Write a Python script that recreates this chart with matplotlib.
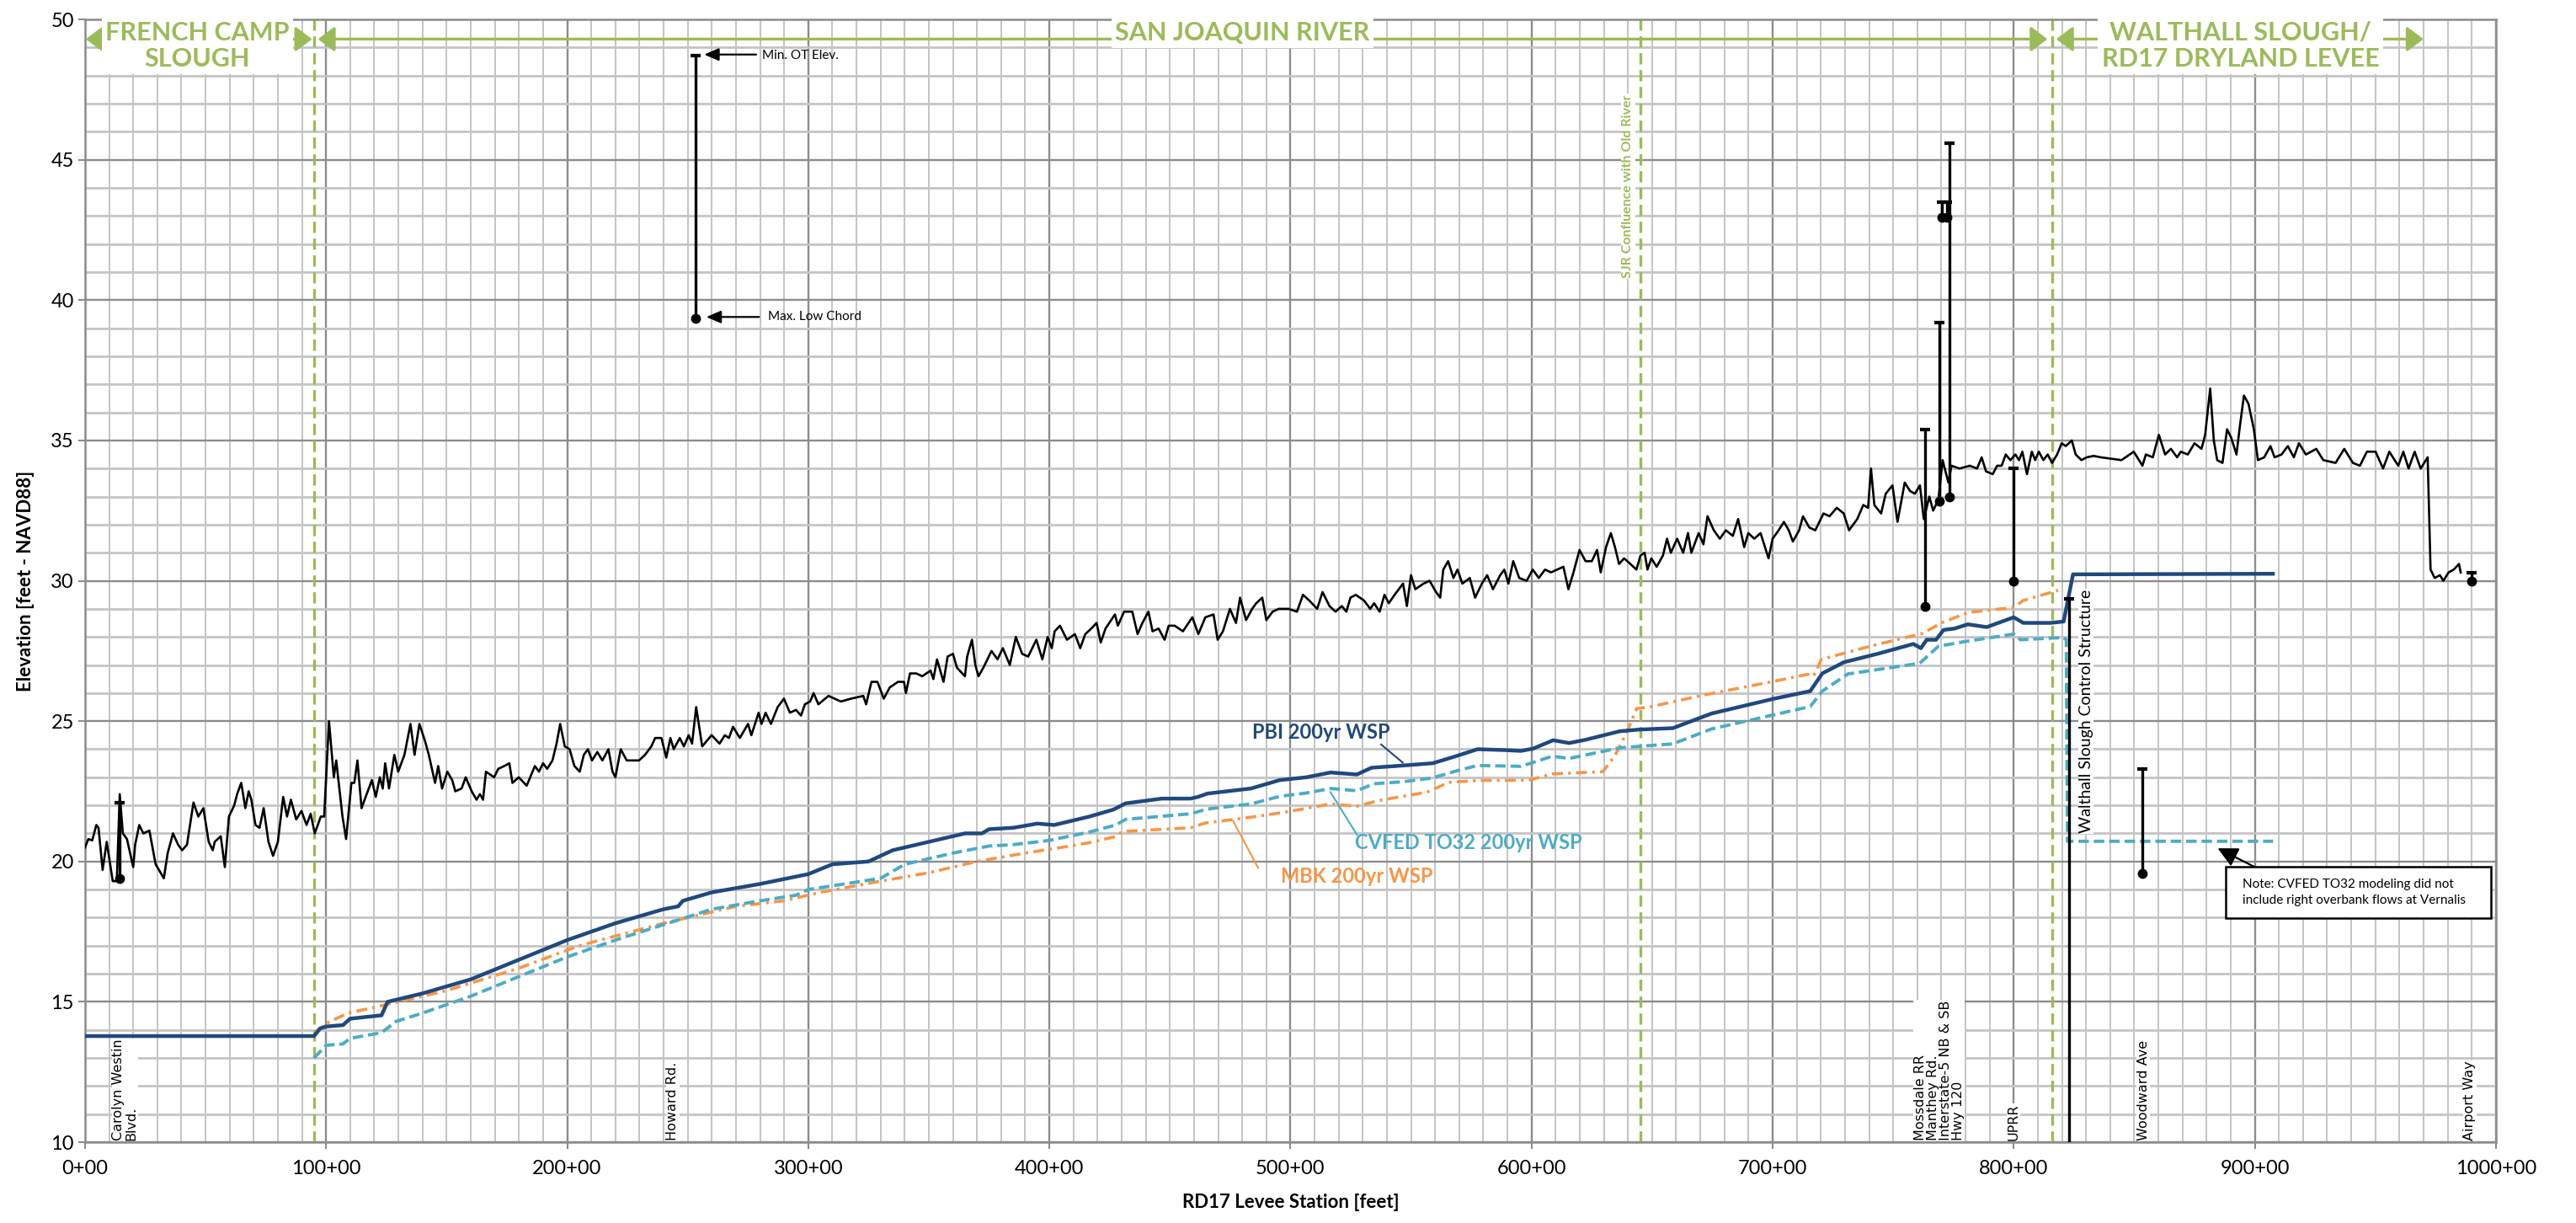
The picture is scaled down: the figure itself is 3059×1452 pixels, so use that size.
import matplotlib
matplotlib.use("Agg")
import matplotlib.pyplot as plt
from matplotlib.ticker import MultipleLocator, FuncFormatter

narrow = ["Liberation Sans Narrow", "Lato", "DejaVu Sans"]
green = "#9BBB59"
pbi_color = "#1F497D"
cvfed_color = "#4BACC6"
mbk_color = "#F79646"

# Levee crest profile (station in 100 ft, elevation ft)
crest_pts = [
    (0, 20.5), (1.4, 20.8), (3.0, 20.75), (4.7, 21.3), (5.6, 21.2), (7.3, 19.7), (9.0, 20.7),
    (11.5, 19.3), (13.2, 19.3), (14.4, 22.4), (15.7, 21.0), (17.4, 20.8), (20.0, 19.8),
    (20.8, 20.6), (22.5, 21.3), (24.2, 21.0), (26.7, 21.1), (29.3, 19.9), (32.7, 19.4),
    (34.3, 20.3), (36.5, 21.0), (38.6, 20.6), (40.3, 20.4), (42.3, 20.6), (45.0, 22.1),
    (47.0, 21.6), (49.1, 21.9), (51.3, 20.7), (53.0, 20.4), (53.8, 20.7), (56.3, 20.9),
    (58.0, 19.8), (59.7, 21.6), (61.9, 22.0), (63.1, 22.4), (64.8, 22.8), (66.5, 21.9),
    (67.9, 22.5), (69.0, 22.2), (70.7, 21.3), (72.4, 21.2), (74.1, 21.9), (76.1, 20.7),
    (78.0, 20.2), (80.0, 20.7), (82.2, 22.3), (83.8, 21.6), (85.4, 22.2), (87.6, 21.5),
    (89.8, 21.8), (91.9, 21.3), (93.6, 21.7), (95.3, 21.0), (97.8, 21.6), (99.2, 21.6),
    (101.2, 25.0), (103.2, 23.0), (104.2, 23.6), (106.8, 21.6), (108.3, 20.8), (110.5, 22.8),
    (111.7, 22.8), (113.0, 23.6), (114.7, 21.9), (116.4, 22.3), (119.0, 22.9), (120.6, 22.3),
    (122.3, 23.0), (123.5, 22.6), (124.5, 23.5), (126.1, 22.6), (128.3, 23.8), (129.9, 23.2),
    (132.5, 23.8), (135.0, 24.9), (136.7, 23.8), (138.7, 24.9), (141.0, 24.3), (142.6, 23.8),
    (145.2, 22.8), (146.5, 23.4), (148.1, 22.6), (150.3, 23.2), (152.3, 22.9), (153.6, 22.5),
    (156.2, 22.6), (157.9, 23.0), (160.4, 22.5), (162.4, 22.2), (163.8, 22.4), (165.1, 22.2),
    (166.3, 23.2), (169.7, 23.0), (171.4, 23.3), (173.9, 23.4), (176.0, 23.5), (177.3, 22.8),
    (179.9, 23.0), (183.2, 22.7), (186.6, 23.4), (188.3, 23.2), (190.0, 23.5), (191.7, 23.3),
    (193.9, 23.6), (195.6, 24.2), (197.1, 24.9), (199.0, 24.1), (201.0, 24.0), (203.0, 23.4),
    (205.2, 23.2), (206.9, 23.8), (208.6, 24.0), (210.3, 23.6), (212.5, 23.9), (214.6, 23.6),
    (217.1, 24.0), (218.8, 23.2), (220.0, 23.0), (222.2, 24.0), (224.7, 23.6), (229.8, 23.6),
    (232.3, 23.8), (234.9, 24.1), (236.5, 24.4), (239.1, 24.4), (241.1, 23.7), (242.8, 24.4),
    (244.2, 24.0), (246.7, 24.4), (248.4, 24.1), (250.4, 24.5), (251.8, 24.2), (253.5, 25.5),
    (256.0, 24.1), (259.9, 24.5), (263.2, 24.2), (265.4, 24.5), (267.1, 24.4), (268.8, 24.8),
    (271.6, 24.4), (275.0, 24.9), (276.4, 24.5), (279.4, 25.3), (280.6, 24.9), (282.3, 25.3),
    (284.5, 24.9), (287.3, 25.5), (289.9, 25.8), (292.4, 25.3), (294.9, 25.4), (297.0, 25.2),
    (298.6, 25.6), (300.8, 25.7), (302.2, 26.0), (304.2, 25.6), (308.4, 25.9), (313.5, 25.7),
    (317.7, 25.8), (322.8, 25.9), (324.0, 25.6), (326.2, 26.4), (328.7, 26.4), (331.3, 25.8),
    (333.8, 26.2), (337.2, 26.4), (339.7, 26.4), (340.5, 26.0), (342.2, 26.7), (344.8, 26.7),
    (347.3, 26.6), (350.7, 26.8), (351.9, 26.5), (353.4, 27.2), (356.1, 26.4), (357.8, 27.3),
    (360.0, 27.4), (361.7, 26.9), (365.0, 26.6), (365.9, 27.3), (367.9, 27.9), (369.3, 27.0),
    (370.6, 26.6), (372.6, 26.9), (376.0, 27.5), (378.5, 27.2), (380.7, 27.6), (383.6, 27.0),
    (386.1, 28.0), (388.7, 27.4), (391.2, 27.3), (394.6, 27.9), (397.1, 27.2), (399.3, 28.0),
    (401.0, 27.6), (402.2, 28.2), (404.4, 28.4), (407.3, 27.9), (410.6, 28.1), (412.8, 27.6),
    (414.9, 28.1), (417.4, 28.3), (419.6, 28.5), (421.3, 27.8), (423.3, 28.3), (427.2, 28.8),
    (428.4, 28.4), (431.0, 28.9), (434.4, 28.9), (436.6, 28.1), (438.6, 28.5), (441.1, 28.9),
    (442.8, 28.2), (445.3, 28.3), (447.8, 27.9), (449.5, 28.4), (452.0, 28.4), (455.4, 28.2),
    (459.3, 28.7), (461.8, 28.1), (464.7, 28.7), (468.1, 28.8), (469.8, 27.9), (472.0, 28.2),
    (474.9, 29.0), (477.4, 28.5), (479.1, 29.4), (481.6, 28.6), (484.1, 29.0), (485.8, 29.2),
    (488.3, 29.4), (490.0, 28.6), (492.6, 28.9), (495.1, 29.0), (499.3, 29.0), (502.7, 28.9),
    (505.2, 29.5), (507.8, 29.3), (511.1, 29.0), (513.3, 29.6), (516.2, 29.1), (518.7, 28.9),
    (521.3, 29.1), (523.2, 28.9), (524.9, 29.4), (527.1, 29.5), (530.5, 29.3), (533.1, 29.0),
    (534.7, 29.2), (537.0, 28.9), (539.0, 29.5), (540.8, 29.2), (543.2, 29.5), (546.7, 29.9),
    (548.3, 29.1), (550.0, 30.2), (551.8, 29.7), (555.2, 29.9), (557.7, 30.0), (560.4, 29.6),
    (562.1, 29.4), (563.4, 30.4), (565.4, 30.7), (567.6, 30.1), (569.3, 30.4), (571.3, 29.9),
    (574.4, 30.1), (576.6, 29.4), (579.4, 29.9), (581.6, 30.2), (584.0, 29.7), (587.0, 30.2),
    (588.7, 30.4), (590.4, 29.9), (592.4, 30.7), (594.9, 30.1), (598.0, 30.0), (600.5, 30.4),
    (603.0, 30.1), (605.6, 30.4), (608.1, 30.3), (613.2, 30.5), (615.3, 29.7), (617.4, 30.3),
    (619.9, 31.1), (622.4, 30.7), (625.0, 30.7), (627.2, 31.1), (628.7, 30.3), (630.9, 31.2),
    (632.9, 31.7), (634.6, 31.2), (636.3, 30.6), (638.4, 30.8), (641.0, 30.6), (643.5, 30.4),
    (645.2, 30.9), (646.9, 31.0), (648.1, 30.4), (649.7, 30.8), (651.9, 30.5), (654.5, 30.9),
    (656.2, 31.5), (657.8, 31.0), (660.4, 31.5), (662.9, 31.0), (664.9, 31.7), (666.3, 31.0),
    (669.3, 31.7), (671.3, 31.3), (673.0, 32.3), (675.6, 31.8), (678.1, 31.5), (680.6, 31.8),
    (683.5, 31.6), (685.7, 32.2), (688.2, 31.2), (689.9, 31.7), (692.4, 31.5), (695.0, 31.7),
    (698.3, 30.8), (700.0, 31.5), (702.5, 31.8), (704.7, 32.1), (706.7, 31.8), (708.4, 31.4),
    (711.0, 31.8), (712.6, 32.3), (715.2, 31.9), (717.7, 31.8), (721.1, 32.4), (723.6, 32.3),
    (726.6, 32.6), (729.5, 32.4), (731.7, 31.8), (735.1, 32.2), (737.6, 32.7), (739.6, 32.6),
    (740.8, 34.0), (742.2, 32.7), (745.0, 32.4), (746.9, 33.1), (749.7, 33.4), (751.8, 32.1),
    (754.8, 33.5), (757.0, 33.2), (759.0, 33.1), (761.1, 33.4), (762.7, 32.2), (765.0, 33.0),
    (766.6, 32.5), (768.8, 32.9), (770.5, 34.3), (772.9, 33.5), (774.2, 34.1), (777.5, 34.0),
    (781.8, 34.1), (784.8, 34.0), (786.7, 34.4), (788.5, 33.9), (791.3, 33.8), (793.1, 34.1),
    (795.0, 34.1), (796.7, 34.5), (798.6, 34.3), (800.7, 34.5), (802.2, 34.3), (803.6, 34.6),
    (805.5, 33.8), (807.5, 34.6), (808.9, 34.3), (810.4, 34.6), (812.3, 34.3), (814.1, 34.5),
    (815.9, 34.2), (818.0, 34.5), (819.9, 34.9), (821.6, 34.8), (824.1, 35.0), (825.7, 34.5),
    (828.1, 34.3), (830.3, 34.4), (833.2, 34.45), (836.1, 34.4), (840.4, 34.35), (844.7, 34.3),
    (849.8, 34.6), (853.4, 34.1), (854.8, 34.5), (857.7, 34.4), (860.2, 35.2), (862.8, 34.5),
    (865.2, 34.7), (867.8, 34.4), (869.3, 34.6), (872.2, 34.5), (875.0, 34.9), (877.9, 34.7),
    (879.4, 35.2), (881.5, 36.85), (883.0, 35.0), (884.4, 34.3), (886.6, 34.2), (888.5, 35.4),
    (890.2, 35.1), (892.4, 34.5), (893.8, 35.5), (895.5, 36.6), (897.4, 36.3), (899.6, 35.4),
    (901.3, 34.3), (903.9, 34.4), (906.5, 34.8), (908.2, 34.4), (911.1, 34.5), (913.7, 34.8),
    (916.2, 34.4), (918.3, 34.9), (921.2, 34.5), (925.5, 34.7), (928.4, 34.3), (933.5, 34.2),
    (937.1, 34.7), (940.7, 34.2), (943.6, 34.1), (946.5, 34.6), (950.1, 34.6), (953.2, 34.0),
    (955.8, 34.6), (959.5, 34.1), (961.6, 34.6), (963.8, 34.0), (966.3, 34.6), (968.8, 34.0),
    (971.7, 34.4), (972.9, 30.4), (974.6, 30.1), (976.8, 30.2), (978.2, 30.0), (980.4, 30.3),
    (982.5, 30.4), (984.7, 30.6), (985.4, 30.3),
]
crest_station = [p[0] for p in crest_pts]
crest_elev = [p[1] for p in crest_pts]

# Water surface profiles
pbi_station = [0, 95, 97.5, 100, 107, 110, 123, 125.5, 140, 160, 180, 200, 220, 240, 246, 248,
               260, 280, 300, 310, 325, 335, 350, 365, 372, 375, 385, 395, 402, 416.6, 426.6,
               431.6, 446.6, 458.6, 461.6, 465.6, 483.6, 495.6, 506.6, 516.6, 527.6, 533.6,
               543.6, 559, 568.6, 577.6, 588.6, 595.6, 600.6, 609, 615.6, 622.6, 636.6, 644.6,
               658.6, 674.6, 700.6, 715.6, 720.6, 729.6, 743.6, 758.4, 761.5, 763.9, 767.8,
               770.9, 775.5, 781, 788.8, 800, 804, 815.3, 820.7, 824.6, 907.5]
pbi_elev = [13.78, 13.78, 14.05, 14.12, 14.17, 14.4, 14.52, 15.0, 15.3, 15.8, 16.5, 17.2, 17.8,
            18.3, 18.4, 18.6, 18.9, 19.2, 19.55, 19.9, 20.0, 20.4, 20.7, 21.0, 21.0, 21.15, 21.2,
            21.35, 21.3, 21.6, 21.85, 22.07, 22.24, 22.24, 22.3, 22.42, 22.6, 22.9, 23.0, 23.17,
            23.1, 23.34, 23.4, 23.5, 23.75, 24.0, 23.97, 23.94, 24.02, 24.32, 24.22, 24.34,
            24.64, 24.7, 24.75, 25.27, 25.8, 26.07, 26.7, 27.1, 27.4, 27.75, 27.6, 27.9, 27.9,
            28.25, 28.3, 28.45, 28.35, 28.7, 28.5, 28.5, 28.55, 30.23, 30.25]

cvfed_station = [95, 100, 107, 110, 123, 129, 140, 160, 180, 200, 220, 240, 260, 280, 295, 300,
                 315, 330, 340, 360, 375, 385, 400, 416.6, 427.6, 431.6, 458.6, 465.6, 483.6,
                 495.6, 506.6, 516.6, 527.6, 534.6, 546.6, 558.6, 568.6, 577.6, 595.6, 608.6,
                 615.6, 636.6, 658.6, 674.6, 715.6, 720.6, 731.2, 761, 768.8, 779.4, 800, 802.8,
                 820.7, 821.8, 822.3, 907.6]
cvfed_elev = [13.0, 13.45, 13.5, 13.7, 13.9, 14.3, 14.6, 15.2, 15.9, 16.6, 17.2, 17.75, 18.3,
              18.6, 18.8, 19.0, 19.2, 19.4, 19.9, 20.3, 20.55, 20.6, 20.75, 21.05, 21.3, 21.5,
              21.7, 21.87, 22.05, 22.32, 22.44, 22.6, 22.52, 22.77, 22.84, 22.97, 23.22, 23.42,
              23.39, 23.75, 23.67, 24.05, 24.19, 24.72, 25.52, 26.07, 26.68, 27.06, 27.67,
              27.83, 28.1, 27.9, 27.98, 27.9, 20.72, 20.72]

mbk_station = [95, 101, 109, 120, 130, 150, 180, 205, 240, 270, 290, 305, 330, 350, 370, 390,
               405, 416.6, 426.6, 430.6, 458.6, 464.6, 485.6, 498.6, 516.6, 527.6, 536.6, 556.6,
               560.6, 565.6, 578.6, 598.6, 608.6, 629.6, 634.6, 639.6, 643.6, 648.6, 672.6,
               700.6, 714.6, 717, 720.2, 740.5, 762.3, 770, 781, 800, 804, 818.4]
mbk_elev = [13.9, 14.27, 14.6, 14.8, 15.0, 15.4, 16.2, 17.0, 17.8, 18.4, 18.6, 18.9, 19.3, 19.6,
            20.0, 20.3, 20.5, 20.67, 20.87, 21.07, 21.2, 21.37, 21.6, 21.77, 22.05, 21.97, 22.17,
            22.47, 22.62, 22.82, 22.89, 22.89, 23.12, 23.2, 23.77, 24.62, 25.45, 25.5, 25.95,
            26.42, 26.67, 26.6, 27.2, 27.67, 28.13, 28.5, 28.87, 29.05, 29.3, 29.66]

# Bridges: station, max low chord, min OT elevation
bridge_station = [14.4, 253.3, 763.1, 769.0, 770.1, 772.2, 773.5, 800.0, 853.4, 989.8]
bridge_low = [19.4, 39.34, 29.1, 32.85, 42.95, 42.95, 33.0, 30.0, 19.57, 30.0]
bridge_top = [22.1, 48.72, 35.4, 39.2, 43.5, 43.5, 45.6, 34.0, 23.3, 30.3]

structure_station = 823.0
structure_top = 29.35

reach_breaks = [95, 645, 816]

crossing_labels = ["Carolyn Westin\nBlvd.", "Howard Rd.",
                   "Mossdale RR\nManthey Rd.\nInterstate-5 NB & SB\nHwy 120",
                   "UPRR", "Woodward Ave", "Airport Way"]
crossing_station = [16.5, 243.8, 769.0, 799.8, 853.8, 989.2]

fig = plt.figure(figsize=(30.59, 14.52), dpi=100)
ax = fig.add_axes([0.033, 0.0661, 0.9359, 0.918])

ax.set_xlim(0, 1000)
ax.set_ylim(10, 50)
ax.xaxis.set_major_locator(MultipleLocator(100))
ax.xaxis.set_minor_locator(MultipleLocator(10))
ax.yaxis.set_major_locator(MultipleLocator(5))
ax.yaxis.set_minor_locator(MultipleLocator(1))
ax.xaxis.set_major_formatter(FuncFormatter(lambda v, p: f"{int(round(v))}+00"))
ax.grid(which="minor", axis="x", color="#C4C4C4", lw=1.4, zorder=0)
ax.grid(which="minor", axis="y", color="#C4C4C4", lw=2.0, zorder=0)
ax.grid(which="major", color="#8C8C8C", lw=1.7, zorder=0)
ax.set_axisbelow(True)
for s in ax.spines.values():
    s.set_color("#8C8C8C")
    s.set_linewidth(1.8)
ax.tick_params(which="major", length=6, color="#8C8C8C", width=1.5, labelsize=17)
ax.tick_params(axis="x", which="major", pad=9)
ax.tick_params(which="minor", length=0)
for lab in ax.get_xticklabels() + ax.get_yticklabels():
    lab.set_family(narrow)

ax.set_xlabel("RD17 Levee Station [feet]", fontsize=16, fontweight="bold", family=narrow, labelpad=14)
ax.set_ylabel("Elevation [feet - NAVD88]", fontsize=16, fontweight="bold", family=narrow, labelpad=14)

# reach boundaries
for b in reach_breaks:
    ax.plot([b, b], [10, 50], color=green, lw=2.4, ls=(0, (4, 2)), zorder=2)

ax.plot(crest_station, crest_elev, color="black", lw=1.9, zorder=3)
ax.plot(mbk_station, mbk_elev, color=mbk_color, lw=2.6, ls=(0, (3.6, 1.7, 0.9, 1.7)), zorder=4)
ax.plot(cvfed_station, cvfed_elev, color=cvfed_color, lw=2.8, ls=(0, (3.2, 1.5)), zorder=4)
ax.plot(pbi_station, pbi_elev, color=pbi_color, lw=3.2, zorder=5)

# bridges
for st, lo, hi in zip(bridge_station, bridge_low, bridge_top):
    ax.plot([st, st], [lo, hi], color="black", lw=2.4, zorder=6)
    ax.plot([st], [hi], marker="_", ms=9, mew=3, color="black", zorder=6)
    ax.plot([st], [lo], marker="o", ms=7.5, color="black", zorder=6)
ax.plot([structure_station, structure_station], [10, structure_top], color="black", lw=2.4, zorder=6)
ax.plot([structure_station], [structure_top], marker="_", ms=9, mew=3, color="black", zorder=6)

# reach headers
hdr_y = 49.3
def header(x0, x1, label, xc, y):
    ax.annotate("", xy=(x0, hdr_y), xytext=(x1, hdr_y),
                arrowprops=dict(arrowstyle="<|-|>,head_length=0.6,head_width=0.45", color=green,
                                lw=2.4, shrinkA=0, shrinkB=0, mutation_scale=20), zorder=7)
    ax.text(xc, y, label, color=green, fontsize=22, fontweight="bold", family=narrow,
            ha="center", va="top", linespacing=1.15, zorder=8,
            bbox=dict(facecolor="white", edgecolor="none", pad=3))

header(0.3, 94.2, "FRENCH CAMP\nSLOUGH", 46.5, 49.95)
header(96.6, 814.0, "SAN JOAQUIN RIVER", 480, 49.95)
header(817.6, 970, "WALTHALL SLOUGH/\nRD17 DRYLAND LEVEE", 894, 49.95)

ax.text(640, 40.8, "SJR Confluence with Old River", color=green, fontsize=11.5, fontweight="bold",
        family=narrow, rotation=90, ha="center", va="bottom", zorder=8,
        bbox=dict(facecolor="white", edgecolor="none", pad=1))

# bridge legend
ax.annotate("", xy=(256.8, 48.75), xytext=(278.4, 48.75),
            arrowprops=dict(arrowstyle="-|>,head_length=0.7,head_width=0.3", color="black",
                            lw=1.6, shrinkA=0, shrinkB=0, mutation_scale=15))
ax.text(280.9, 48.7, "Min. OT Elev.", fontsize=11, family=narrow, va="center", ha="left")
ax.annotate("", xy=(257.7, 39.4), xytext=(279.6, 39.4),
            arrowprops=dict(arrowstyle="-|>,head_length=0.7,head_width=0.3", color="black",
                            lw=1.6, shrinkA=0, shrinkB=0, mutation_scale=15))
ax.text(283.2, 39.42, "Max. Low Chord", fontsize=11, family=narrow, va="center", ha="left")

# crossing labels
for lab, st in zip(crossing_labels, crossing_station):
    ax.text(st, 10.06, lab, rotation=90, fontsize=11.5, family="DejaVu Sans", ha="center",
            va="bottom", multialignment="left", linespacing=1.0, zorder=8,
            bbox=dict(facecolor="white", edgecolor="none", pad=0.5))

ax.text(830, 21.0, "Walthall Slough Control Structure", rotation=90, fontsize=14,
        family=narrow, ha="center", va="bottom", zorder=8,
        bbox=dict(facecolor="white", edgecolor="none", pad=0.5))

# WSP labels
ax.text(512.6, 24.6, "PBI 200yr WSP", color=pbi_color, fontsize=17, fontweight="bold",
        family=narrow, ha="center", va="center", zorder=8)
ax.plot([537.6, 546.6], [24.17, 23.52], color=pbi_color, lw=1.5, zorder=8)
ax.text(573.8, 20.67, "CVFED TO32 200yr WSP", color=cvfed_color, fontsize=17, fontweight="bold",
        family=narrow, ha="center", va="center", zorder=8)
ax.plot([527.6, 516.6], [20.95, 22.47], color=cvfed_color, lw=1.5, zorder=8)
ax.text(527.4, 19.47, "MBK 200yr WSP", color=mbk_color, fontsize=17, fontweight="bold",
        family=narrow, ha="center", va="center", zorder=8)
ax.plot([486.6, 476.2], [19.77, 21.45], color=mbk_color, lw=1.5, zorder=8)

# note
ax.annotate("", xy=(884.6, 20.47), xytext=(899.6, 19.82),
            arrowprops=dict(arrowstyle="-|>,head_length=0.8,head_width=0.4", color="black",
                            lw=1.6, shrinkA=0, shrinkB=0, mutation_scale=18), zorder=8)
ax.text(894.9, 18.9, "Note: CVFED TO32 modeling did not\ninclude right overbank flows at Vernalis",
        fontsize=11, family=narrow, ha="left", va="center", linespacing=1.5, zorder=9)
ax.add_patch(plt.Rectangle((888, 17.99), 110, 1.83, facecolor="white", edgecolor="black",
                           lw=1.8, zorder=8))

fig.savefig("out.png", dpi=100)
